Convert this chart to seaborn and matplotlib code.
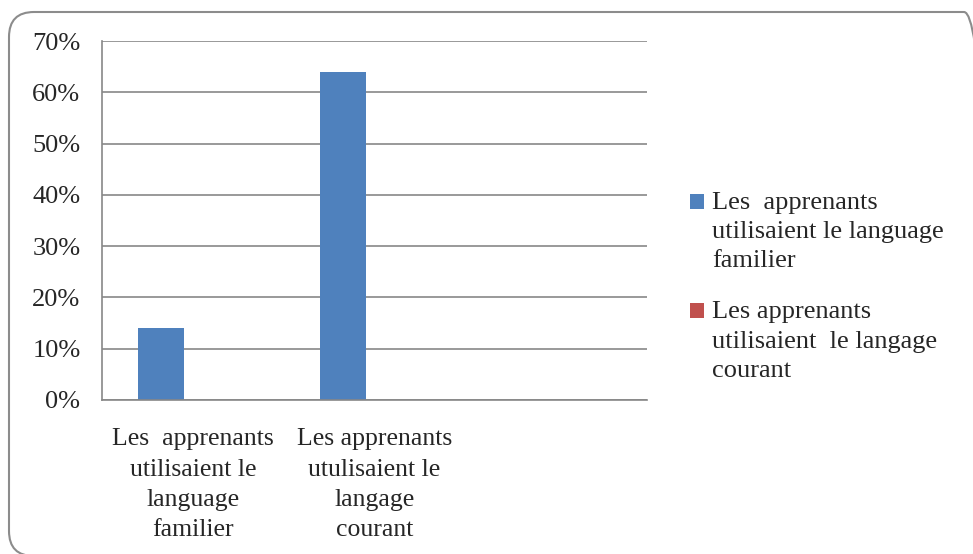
import pandas as pd
import seaborn as sns
import matplotlib.pyplot as plt
from matplotlib.patches import FancyBboxPatch, Rectangle
from matplotlib.legend_handler import HandlerPatch
from matplotlib.ticker import PercentFormatter, FixedLocator

# Data
categories = ["Les  apprenants\nutilisaient le\nlanguage\nfamilier",
              "Les apprenants\nutulisaient le\nlangage\ncourant",
              ""]
series_names = ["Les  apprenants\nutilisaient le language\nfamilier",
                "Les apprenants\nutilisaient  le langage\ncourant"]
familier_values = [0.14, 0.64, 0.0]
courant_values = [0.0, 0.0, 0.0]
y_ticks = [0, 0.1, 0.2, 0.3, 0.4, 0.5, 0.6, 0.7]

colors = ["#4F81BD", "#C0504D"]
grid_color = "#878787"

df = pd.DataFrame({
    "Catégorie": categories * 2,
    "Série": [series_names[0]] * 3 + [series_names[1]] * 3,
    "Valeur": familier_values + courant_values,
})

sns.set_style("white")
plt.rcParams["font.family"] = ["Liberation Serif", "DejaVu Serif"]

fig = plt.figure(figsize=(9.73, 5.54), dpi=100)
ax = fig.add_axes([102 / 973, 1 - 400 / 554, 545 / 973, 359 / 554])

sns.barplot(data=df, x="Catégorie", y="Valeur", hue="Série",
            palette=colors, saturation=1, width=0.704, gap=0.28,
            linewidth=0, ax=ax, legend=True)

ax.set_ylim(0, 0.7)
ax.set_xlim(-0.5, 2.5)
ax.set_yticks(y_ticks)
ax.yaxis.set_major_formatter(PercentFormatter(1.0, decimals=0))
ax.grid(axis="y", color=grid_color, linewidth=1.2)
ax.set_axisbelow(True)
ax.set_xlabel("")
ax.set_ylabel("")

# category boundary ticks (Excel style)
ax.xaxis.set_minor_locator(FixedLocator([-0.5, 0.5, 1.5, 2.5]))
ax.tick_params(axis="x", which="major", length=0, pad=20.5, labelsize=18.5)
ax.tick_params(axis="x", which="minor", length=4.5, width=1.2, color=grid_color)
ax.tick_params(axis="y", which="major", length=4.5, width=1.2, color=grid_color,
               labelsize=19, pad=11)
for lbl in ax.get_xticklabels():
    lbl.set_linespacing(1.49)

for side in ["top", "right"]:
    ax.spines[side].set_visible(False)
for side in ["left", "bottom"]:
    ax.spines[side].set_color(grid_color)
    ax.spines[side].set_linewidth(1.2)


# legend square sits next to the first line of its label
def top_square(legend, orig_handle, xdescent, ydescent, width, height, fontsize):
    size = 10.5
    return Rectangle((-xdescent, -ydescent + height - size + 5.6), size, size)


leg = ax.legend(loc="center left", bbox_to_anchor=(666 / 973, 0.482),
                bbox_transform=fig.transFigure, frameon=False,
                fontsize=19, handlelength=0.55, handleheight=3.3,
                handletextpad=0.3, labelspacing=1.1,
                handler_map={Rectangle: HandlerPatch(patch_func=top_square)})
for t in leg.get_texts():
    t.set_linespacing(1.42)

# rounded chart border, cut by the right and bottom edges like the original
border = FancyBboxPatch((0.09, -0.02), 9.80, 5.44,
                        boxstyle="round,pad=0,rounding_size=0.25",
                        transform=fig.dpi_scale_trans, fill=False,
                        edgecolor="#8c8c8c", linewidth=1.5, clip_on=False)
fig.patches.append(border)

fig.savefig("out.png", dpi=100)
